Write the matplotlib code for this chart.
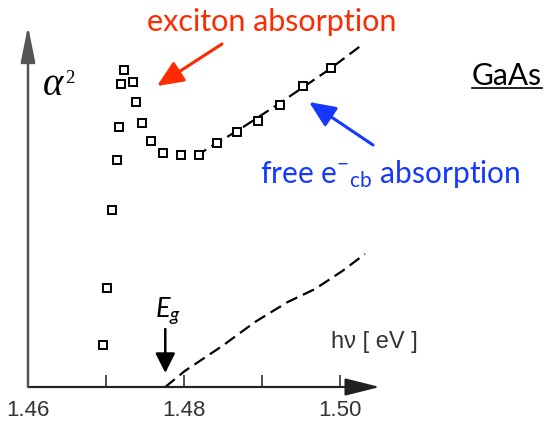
import matplotlib.pyplot as plt
import matplotlib as mpl

mpl.rcParams['mathtext.fontset'] = 'custom'
mpl.rcParams['mathtext.rm'] = 'Lato'
mpl.rcParams['mathtext.it'] = 'Lato:italic'

# measured points (photon energy in eV, alpha^2 in arb. units)
sq_x = [1.4696, 1.4701, 1.4708, 1.4714, 1.4717, 1.4719, 1.4723, 1.4735, 1.4738,
        1.4746, 1.4758, 1.4773, 1.4796, 1.4819, 1.4842, 1.4868, 1.4895, 1.4923,
        1.4953, 1.4988]
sq_y = [0.42, 0.99, 1.77, 2.27, 2.60, 3.03, 3.17, 3.05, 2.85,
        2.64, 2.46, 2.34, 2.32, 2.32, 2.44, 2.55, 2.66, 2.82,
        3.01, 3.19]

# dashed fit through free-carrier absorption
fit_x = [1.4815, 1.4872, 1.4923, 1.4987, 1.5028]
fit_y = [2.31, 2.58, 2.84, 3.18, 3.42]

# dashed band-edge curve without excitons
band_x = [1.4776, 1.4801, 1.4849, 1.4891, 1.4933, 1.4968, 1.5003, 1.5032]
band_y = [0.0, 0.16, 0.41, 0.65, 0.85, 0.98, 1.16, 1.33]

Eg = 1.4776
major_ticks = [1.46, 1.48, 1.50]
minor_ticks = [1.47, 1.49]

red = '#ff2a00'
blue = '#1438ff'

fig = plt.figure(figsize=(5.45, 4.27), dpi=100)
ax = fig.add_axes([0, 0, 1, 1])
ax.set_xlim(1.45641, 1.52628)
ax.set_ylim(-0.39, 3.88)

for s in ['top', 'right', 'left']:
    ax.spines[s].set_visible(False)
ax.spines['bottom'].set_position(('data', 0))
ax.spines['bottom'].set_bounds(1.46, 1.50)
ax.spines['bottom'].set_color('#333333')
ax.spines['bottom'].set_linewidth(1.5)

ax.set_xticks(major_ticks)
ax.set_xticklabels(['%.2f' % t for t in major_ticks], fontsize=16,
                   family='Liberation Sans', color='#333333')
ax.set_xticks(minor_ticks, minor=True)
ax.tick_params(axis='x', which='both', direction='in', length=8.6, width=1.2,
               color='#333333', pad=9)
ax.set_yticks([])

# axis arrows
ax.annotate('', xy=(1.5051, 0), xytext=(1.46, 0),
            arrowprops=dict(arrowstyle='-|>,head_length=1.08,head_width=0.27',
                            mutation_scale=20, lw=1.5, color='#222222',
                            shrinkA=0, shrinkB=0))
ax.annotate('', xy=(1.46, 3.61), xytext=(1.46, 0),
            arrowprops=dict(arrowstyle='-|>,head_length=1.1,head_width=0.22',
                            mutation_scale=20, lw=1.8, color='#555555',
                            shrinkA=0, shrinkB=0))

ax.plot(fit_x, fit_y, color='black', lw=1.6, dashes=(5.5, 2.8))
ax.plot(band_x, band_y, color='black', lw=1.6, dashes=(5.5, 2.8))
ax.plot(sq_x, sq_y, 's', ms=5.8, mfc='white', mec='black', mew=1.4)

# E_g marker
ax.annotate('', xy=(Eg, 0.14), xytext=(Eg, 0.58),
            arrowprops=dict(arrowstyle='-|>,head_length=0.6,head_width=0.3',
                            mutation_scale=20, lw=1.8, color='black',
                            shrinkA=0, shrinkB=0))
ax.text(Eg + 0.0003, 0.71, r'$E_g$', fontsize=19.5, ha='center', va='baseline')

# labels
ax.text(1.4619, 2.93, u'\u03b1', fontsize=28, family='Liberation Serif',
        style='italic', va='baseline')
ax.text(1.46470, 3.05, '2', fontsize=13.5, family='Liberation Serif',
        va='baseline')
ax.text(1.50442, 0.40, u'h\u03bd [ eV ]', fontsize=17, family='Liberation Sans',
        color='#333333', ha='center', va='baseline')
ax.text(1.52141, 3.03, 'GaAs', fontsize=21.5, family='Lato', ha='center',
        va='baseline')
ax.plot([1.51692, 1.52590], [2.99, 2.99], color='black', lw=1.2)

ax.text(1.4912, 3.57, 'exciton absorption', fontsize=22, family='Lato',
        color=red, ha='center', va='baseline')
ax.annotate('', xy=(1.47654, 3.01), xytext=(1.48487, 3.43),
            arrowprops=dict(arrowstyle='-|>,head_length=0.8,head_width=0.35',
                            mutation_scale=20, lw=2.2, color=red,
                            shrinkA=0, shrinkB=0))

ax.text(1.50641, 2.05, r'free e$^{-}{}_{\mathrm{cb}}$ absorption', fontsize=21.5,
        family='Lato', color=blue, ha='center', va='baseline')
ax.annotate('', xy=(1.49603, 2.85), xytext=(1.50423, 2.42),
            arrowprops=dict(arrowstyle='-|>,head_length=0.8,head_width=0.35',
                            mutation_scale=20, lw=2.2, color=blue,
                            shrinkA=0, shrinkB=0))

fig.savefig('out.png', dpi=100)
